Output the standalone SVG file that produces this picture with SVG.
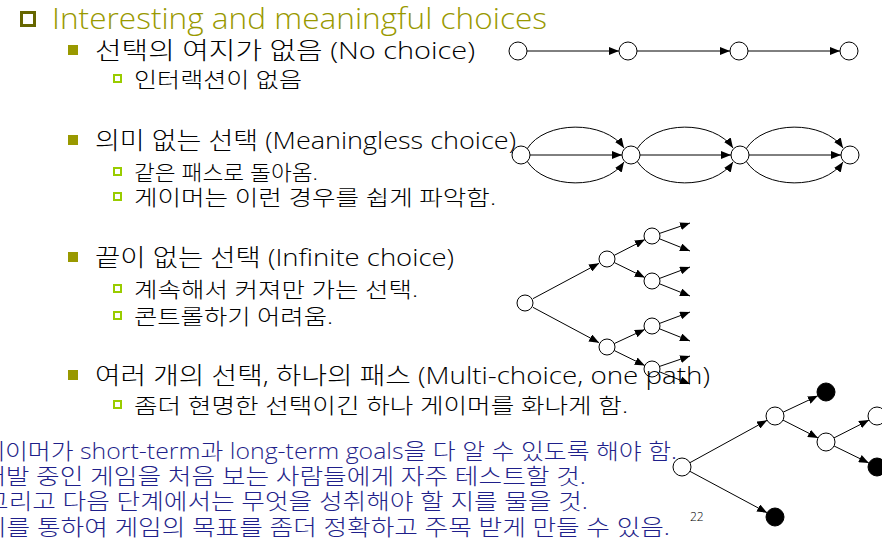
<svg xmlns="http://www.w3.org/2000/svg" width="882" height="545" viewBox="0 0 882 545">
<style>
.t{font-family:"Open Sans","Noto Sans CJK KR",sans-serif;font-weight:300;}
.title{font-size:30px;fill:#999900;}
.l1{font-size:24px;fill:#000;}
.l2{font-size:21px;fill:#000;}
.blue{font-size:21.5px;fill:#1f1f8a;}
.pn{font-size:12px;fill:#000;}
.b0{fill:#fff;stroke:#666600;stroke-width:3;}
.b1{fill:#999900;}
.b2{fill:#fff;stroke:#99cc00;stroke-width:2;}
.n{fill:#fff;stroke:#000;stroke-width:1;}
.f{fill:#000;stroke:#000;stroke-width:1;}
.e{fill:none;stroke:#000;stroke-width:1;marker-end:url(#ah);}
</style>
<defs>
<marker id="ah" markerUnits="userSpaceOnUse" markerWidth="10" markerHeight="8" refX="10" refY="4" orient="auto">
<path d="M0,0 L10,4 L0,8 z" fill="#000"/>
</marker>
</defs>
<rect width="882" height="545" fill="#fff"/>

<g id="connectors">
<path class="e" d="M527,51 L619,51"/>
<path class="e" d="M637,51 L730,51"/>
<path class="e" d="M748,51 L840,51"/>
<path class="e" d="M530,155 L622,155"/>
<path class="e" d="M640,155 L731,155"/>
<path class="e" d="M749,155 L841,155"/>
<path class="e" d="M527,149 C545,120 605,120 624,148"/>
<path class="e" d="M527,161 C545,190 605,190 624,162"/>
<path class="e" d="M637,149 C655,120 714,120 733,148"/>
<path class="e" d="M637,161 C655,190 714,190 733,162"/>
<path class="e" d="M746,149 C764,120 824,120 843,148"/>
<path class="e" d="M746,161 C764,190 824,190 843,162"/>
<path class="e" d="M532.9,298.7 L599.1,263.3"/>
<path class="e" d="M532.9,307.3 L599.1,342.7"/>
<path class="e" d="M614.1,255.4 L644.9,239.6"/>
<path class="e" d="M614.2,262.5 L644.8,277.5"/>
<path class="e" d="M614.2,343.6 L644.8,329.4"/>
<path class="e" d="M614.2,350.5 L644.8,365.5"/>
<path class="e" d="M659.6,233.4 L690,223"/>
<path class="e" d="M659.5,238.8 L690,251"/>
<path class="e" d="M659.6,278.4 L690,267"/>
<path class="e" d="M659.5,283.8 L690,296"/>
<path class="e" d="M659.6,323.4 L690,312"/>
<path class="e" d="M659.5,328.8 L690,341"/>
<path class="e" d="M659.6,366.4 L690,356"/>
<path class="e" d="M659.5,371.8 L690,384"/>
<path class="e" d="M689.9,462.7 L767.1,420.3"/>
<path class="e" d="M689.9,471.3 L767.1,512.7"/>
<path class="e" d="M783.1,412.2 L817.9,395.8"/>
<path class="e" d="M783,420.1 L818,437.9"/>
<path class="e" d="M834,437.9 L869,420.1"/>
<path class="e" d="M834.1,446 L868.9,463"/>
</g>

<g id="row1-nodes">
<g id="r1n1"><circle class="n" cx="518" cy="51" r="9"/></g>
<g id="r1n2"><circle class="n" cx="628" cy="51" r="9"/></g>
<g id="r1n3"><circle class="n" cx="739" cy="51" r="9"/></g>
<g id="r1n4"><circle class="n" cx="849" cy="51" r="9"/></g>
</g>
<g id="row2-nodes">
<g id="r2n1"><circle class="n" cx="521" cy="155" r="9"/></g>
<g id="r2n2"><circle class="n" cx="631" cy="155" r="9"/></g>
<g id="r2n3"><circle class="n" cx="740" cy="155" r="9"/></g>
<g id="r2n4"><circle class="n" cx="850" cy="155" r="9"/></g>
</g>
<g id="tree3-nodes">
<g id="t3root"><circle class="n" cx="525" cy="303" r="8"/></g>
<g id="t3c1"><circle class="n" cx="607" cy="259" r="8"/></g>
<g id="t3c2"><circle class="n" cx="607" cy="347" r="8"/></g>
<g id="t3g1"><circle class="n" cx="652" cy="236" r="8"/></g>
<g id="t3g2"><circle class="n" cx="652" cy="281" r="8"/></g>
<g id="t3g3"><circle class="n" cx="652" cy="326" r="8"/></g>
<g id="t3g4"><circle class="n" cx="652" cy="369" r="8" fill-opacity="0"/></g>
</g>
<g id="tree4-nodes">
<g id="t4root"><circle class="n" cx="682" cy="467" r="9"/></g>
<g id="t4a"><circle class="n" cx="775" cy="416" r="9"/></g>
<g id="t4d"><circle class="f" cx="775" cy="517" r="9"/></g>
<g id="t4a1"><circle class="f" cx="826" cy="392" r="9"/></g>
<g id="t4b"><circle class="n" cx="826" cy="442" r="9"/></g>
<g id="t4b1"><circle class="n" cx="877" cy="416" r="9"/></g>
<g id="t4b2"><circle class="f" cx="877" cy="467" r="9"/></g>
</g>

<g id="title">
<rect class="b0" x="21.5" y="12.5" width="13" height="13"/>
<text class="t title" x="52" y="29" textLength="495" lengthAdjust="spacingAndGlyphs">Interesting and meaningful choices</text>
</g>

<g id="bullets-l1">
<rect class="b1" x="68" y="45" width="10" height="10"/>
<rect class="b1" x="68" y="135" width="10" height="10"/>
<rect class="b1" x="68" y="252" width="10" height="10"/>
<rect class="b1" x="68" y="370" width="10" height="10"/>
</g>
<g id="bullets-l2">
<rect class="b2" x="114" y="75" width="7" height="7"/>
<rect class="b2" x="114" y="168" width="7" height="7"/>
<rect class="b2" x="114" y="193" width="7" height="7"/>
<rect class="b2" x="114" y="285" width="7" height="7"/>
<rect class="b2" x="114" y="312" width="7" height="7"/>
<rect class="b2" x="114" y="401" width="7" height="7"/>
</g>

<g id="text-l1">
<text class="t l1" x="95" y="59" textLength="380" lengthAdjust="spacingAndGlyphs">선택의 여지가 없음 (No choice)</text>
<text class="t l1" x="95" y="149" textLength="421" lengthAdjust="spacingAndGlyphs">의미 없는 선택 (Meaningless choice)</text>
<text class="t l1" x="95" y="266" textLength="359" lengthAdjust="spacingAndGlyphs">끝이 없는 선택 (Infinite choice)</text>
<text class="t l1" x="95" y="384" textLength="615" lengthAdjust="spacingAndGlyphs">여러 개의 선택, 하나의 패스 (Multi-choice, one path)</text>
</g>
<g id="text-l2">
<text class="t l2" x="134" y="87" textLength="168" lengthAdjust="spacingAndGlyphs">인터랙션이 없음</text>
<text class="t l2" x="134" y="180" textLength="184" lengthAdjust="spacingAndGlyphs">같은 패스로 돌아옴.</text>
<text class="t l2" x="134" y="205" textLength="362" lengthAdjust="spacingAndGlyphs">게이머는 이런 경우를 쉽게 파악함.</text>
<text class="t l2" x="134" y="297" textLength="284" lengthAdjust="spacingAndGlyphs">계속해서 커져만 가는 선택.</text>
<text class="t l2" x="134" y="324" textLength="199" lengthAdjust="spacingAndGlyphs">콘트롤하기 어려움.</text>
<text class="t l2" x="134" y="413" textLength="494" lengthAdjust="spacingAndGlyphs">좀더 현명한 선택이긴 하나 게이머를 화나게 함.</text>
</g>
<g id="text-blue">
<text class="t blue" x="-18" y="459" textLength="695" lengthAdjust="spacingAndGlyphs">게이머가 short-term과 long-term goals을 다 알 수 있도록 해야 함.</text>
<text class="t blue" x="-18" y="484" textLength="604" lengthAdjust="spacingAndGlyphs">개발 중인 게임을 처음 보는 사람들에게 자주 테스트할 것.</text>
<text class="t blue" x="-15" y="509" textLength="603" lengthAdjust="spacingAndGlyphs">그리고 다음 단계에서는 무엇을 성취해야 할 지를 물을 것.</text>
<text class="t blue" x="-17" y="535" textLength="687" lengthAdjust="spacingAndGlyphs">이를 통하여 게임의 목표를 좀더 정확하고 주목 받게 만들 수 있음.</text>
</g>
<g id="page-number">
<text class="t pn" x="690" y="521">22</text>
</g>
</svg>
